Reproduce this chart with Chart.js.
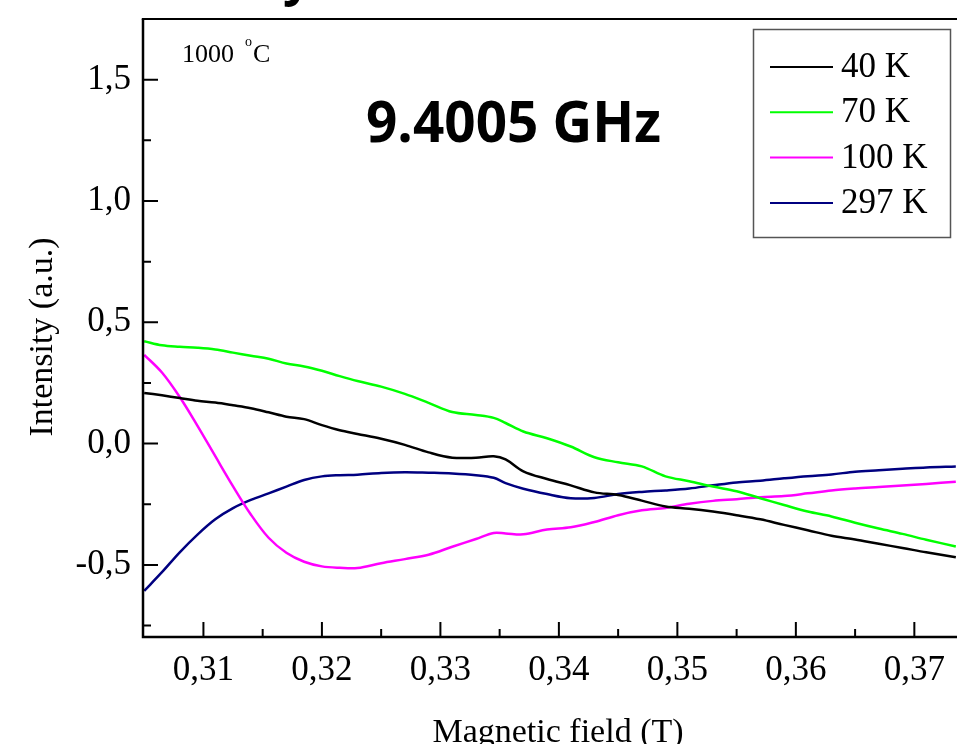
<!DOCTYPE html>
<html><head><meta charset="utf-8">
<script src="https://cdn.jsdelivr.net/npm/chart.js@4/dist/chart.umd.min.js"></script>
<style>html,body{margin:0;padding:0;background:#fff;overflow:hidden}#wrap{width:957px;height:744px;position:relative}</style>
</head><body><div id="wrap"><canvas id="c" width="957" height="744"></canvas></div>
<script>
// Magnetic field (T)
const field = [0.305,0.3065,0.308,0.3095,0.311,0.3125,0.314,0.3155,0.317,0.3185,0.320,0.3215,0.323,0.325,0.327,0.329,0.331,0.333,0.3345,0.3355,0.337,0.339,0.341,0.343,0.345,0.347,0.349,0.351,0.353,0.355,0.357,0.359,0.361,0.363,0.365,0.367,0.369,0.371,0.3735];
const k40  = [0.209,0.199,0.188,0.177,0.169,0.158,0.146,0.129,0.111,0.101,0.076,0.055,0.040,0.020,-0.005,-0.036,-0.058,-0.058,-0.052,-0.065,-0.114,-0.146,-0.172,-0.201,-0.212,-0.235,-0.259,-0.268,-0.280,-0.295,-0.312,-0.335,-0.357,-0.380,-0.395,-0.413,-0.430,-0.448,-0.468];
const k70  = [0.422,0.405,0.399,0.395,0.388,0.375,0.362,0.350,0.330,0.318,0.300,0.278,0.258,0.235,0.205,0.168,0.130,0.118,0.106,0.085,0.050,0.022,-0.012,-0.056,-0.077,-0.094,-0.135,-0.155,-0.177,-0.196,-0.225,-0.253,-0.280,-0.300,-0.326,-0.350,-0.372,-0.396,-0.424];
const k100 = [0.366,0.293,0.192,0.073,-0.052,-0.176,-0.292,-0.388,-0.450,-0.487,-0.506,-0.512,-0.513,-0.493,-0.476,-0.458,-0.425,-0.393,-0.368,-0.370,-0.374,-0.354,-0.345,-0.323,-0.295,-0.275,-0.265,-0.248,-0.236,-0.229,-0.221,-0.216,-0.205,-0.193,-0.185,-0.179,-0.173,-0.166,-0.157];
const k297 = [-0.607,-0.530,-0.448,-0.375,-0.312,-0.266,-0.232,-0.205,-0.177,-0.150,-0.135,-0.130,-0.128,-0.121,-0.118,-0.120,-0.123,-0.130,-0.141,-0.163,-0.186,-0.208,-0.225,-0.224,-0.208,-0.199,-0.193,-0.185,-0.172,-0.160,-0.153,-0.143,-0.134,-0.127,-0.116,-0.110,-0.104,-0.098,-0.094];

const seriesLabels = ['40 K','70 K','100 K','297 K'];
const seriesColors = ['#000000','#00ff00','#ff00ff','#000080'];
const seriesValues = [k40,k70,k100,k297];

const xTickValues = [0.31,0.32,0.33,0.34,0.35,0.36,0.37];
const xTickLabels = ['0,31','0,32','0,33','0,34','0,35','0,36','0,37'];
const xMinorValues = [0.305,0.315,0.325,0.335,0.345,0.355,0.365];
const yTickValues = [-0.5,0,0.5,1,1.5];
const yTickLabels = ['-0,5','0,0','0,5','1,0','1,5'];
const yMinorValues = [-0.75,-0.25,0.25,0.75,1.25];

const xTitle = 'Magnetic field (T)';
const yTitle = 'Intensity (a.u.)';
const freqText = '9.4005 GHz';
const tempText = '1000';
const degText = 'o';
const unitText = 'C';
const topFragment = 'y';

const SERIF = '"Liberation Serif", "Times New Roman", serif';

const decor = {
  id: 'decor',
  afterDraw(chart) {
    const ctx = chart.ctx;
    const a = chart.chartArea;
    const xs = chart.scales.x, ys = chart.scales.y;
    ctx.save();
    ctx.strokeStyle = '#000';
    ctx.lineCap = 'butt';
    // frame
    ctx.lineWidth = 2.5;
    ctx.beginPath();
    ctx.moveTo(a.left, a.top); ctx.lineTo(a.left, a.bottom + 1.2);
    ctx.moveTo(a.left - 1.2, a.bottom); ctx.lineTo(a.right, a.bottom);
    ctx.stroke();
    ctx.lineWidth = 2;
    ctx.beginPath();
    ctx.moveTo(a.left - 1.2, a.top); ctx.lineTo(a.right, a.top);
    ctx.stroke();
    // ticks (inward)
    ctx.lineWidth = 2;
    ctx.beginPath();
    yTickValues.forEach(v => { const p = ys.getPixelForValue(v); ctx.moveTo(a.left, p); ctx.lineTo(a.left + 15, p); });
    yMinorValues.forEach(v => { const p = ys.getPixelForValue(v); ctx.moveTo(a.left, p); ctx.lineTo(a.left + 8, p); });
    xTickValues.forEach(v => { const p = xs.getPixelForValue(v); ctx.moveTo(p, a.bottom); ctx.lineTo(p, a.bottom - 15); });
    xMinorValues.forEach(v => { const p = xs.getPixelForValue(v); if (p > a.left + 2) { ctx.moveTo(p, a.bottom); ctx.lineTo(p, a.bottom - 8); } });
    ctx.stroke();

    // legend
    ctx.lineWidth = 1.5;
    ctx.strokeStyle = '#555';
    ctx.strokeRect(753.5, 29.5, 197, 208);
    ctx.font = '35px ' + SERIF;
    ctx.textBaseline = 'middle';
    ctx.textAlign = 'left';
    chart.data.datasets.forEach((ds, i) => {
      const yy = 67 + i * 45.3;
      ctx.strokeStyle = ds.borderColor;
      ctx.lineWidth = 2;
      ctx.beginPath(); ctx.moveTo(770, yy); ctx.lineTo(833, yy); ctx.stroke();
      ctx.fillStyle = '#000';
      ctx.fillText(ds.label, 841, yy + 1);
    });

    // axis titles
    ctx.fillStyle = '#000';
    ctx.font = '34px ' + SERIF;
    ctx.textAlign = 'center';
    ctx.textBaseline = 'alphabetic';
    ctx.fillText(xTitle, 558, 742);
    ctx.save();
    ctx.translate(52, 337);
    ctx.rotate(-Math.PI / 2);
    ctx.fillText(yTitle, 0, 0);
    ctx.restore();

    // frequency label
    ctx.font = 'bold 58px "Open Sans", sans-serif';
    ctx.textAlign = 'left';
    ctx.fillText(freqText, 366, 142, 295);

    // temperature annotation
    ctx.font = '26px ' + SERIF;
    ctx.fillText(tempText, 182, 62);
    ctx.font = '14px ' + SERIF;
    ctx.fillText(degText, 245, 46);
    ctx.font = '26px ' + SERIF;
    ctx.fillText(unitText, 253, 62);

    // cropped fragment of an upper title
    ctx.font = 'bold 50px "Open Sans", sans-serif';
    ctx.fillText(topFragment, 283, -5);
    ctx.restore();
  }
};

new Chart(document.getElementById('c'), {
  type: 'line',
  data: {
    datasets: seriesValues.map((vals, i) => ({
      label: seriesLabels[i],
      data: field.map((f, j) => ({ x: f, y: vals[j] })),
      borderColor: seriesColors[i],
      backgroundColor: seriesColors[i],
      borderWidth: 2.5,
      pointRadius: 0,
      tension: 0.35,
      fill: false
    }))
  },
  options: {
    responsive: false,
    animation: false,
    devicePixelRatio: 1,
    layout: { padding: { top: 19, right: 0, left: 0, bottom: 0 } },
    plugins: { legend: { display: false }, tooltip: { enabled: false }, title: { display: false } },
    scales: {
      x: {
        type: 'linear',
        min: 0.3049, max: 0.3736,
        grid: { display: false, drawTicks: false },
        border: { display: false },
        afterFit: s => { s.height = 107; s.paddingLeft = 0; s.paddingRight = 0; },
        afterBuildTicks: s => { s.ticks = xTickValues.map(v => ({ value: v })); },
        ticks: {
          autoSkip: false, maxRotation: 0, padding: 13, color: '#000',
          font: { family: SERIF, size: 35 },
          callback: v => { const i = xTickValues.findIndex(t => Math.abs(t - v) < 1e-6); return i >= 0 ? xTickLabels[i] : ''; }
        }
      },
      y: {
        type: 'linear',
        min: -0.797, max: 1.75,
        grid: { display: false, drawTicks: false },
        border: { display: false },
        afterFit: s => { s.width = 143; s.paddingTop = 0; s.paddingBottom = 0; },
        afterBuildTicks: s => { s.ticks = yTickValues.map(v => ({ value: v })); },
        ticks: {
          autoSkip: false, padding: 12, color: '#000',
          font: { family: SERIF, size: 35 },
          callback: v => { const i = yTickValues.findIndex(t => Math.abs(t - v) < 1e-6); return i >= 0 ? yTickLabels[i] : ''; }
        }
      }
    }
  },
  plugins: [decor]
});
</script>
</body></html>
